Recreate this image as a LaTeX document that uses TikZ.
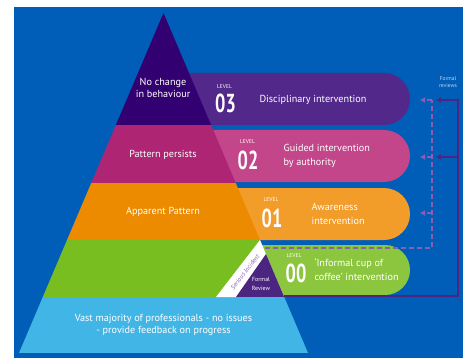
\documentclass[tikz,border=0pt]{standalone}
\usepackage{fontspec}
\setmainfont{PT Sans}
\usepackage{tikz}
\usetikzlibrary{arrows.meta}
\usetikzlibrary{shapes.misc}

\definecolor{bgblue}{HTML}{005EB8}
\definecolor{pyrpurple}{HTML}{330072}
\definecolor{pyrpink}{HTML}{AE2573}
\definecolor{pyrorange}{HTML}{ED8B00}
\definecolor{pyrgreen}{HTML}{78BE20}
\definecolor{pyrlblue}{HTML}{41B6E6}
\definecolor{pillpurple}{HTML}{52288A}
\definecolor{pillpink}{HTML}{C4468A}
\definecolor{pillorange}{HTML}{F29C2A}
\definecolor{pillgreen}{HTML}{8CC63F}
\definecolor{reviewline}{HTML}{4C2580}
\definecolor{incidentline}{HTML}{8A5FB0}
\definecolor{notetext}{HTML}{C9D9EE}

\tikzset{
  pill/.style={rounded rectangle, rounded rectangle left arc=none, inner sep=0pt},
  lbl/.style={text=white, font=\fontsize{10.2}{11.5}\selectfont, align=center},
  pilltext/.style={text=white, font=\fontsize{10.2}{14}\selectfont, align=left, anchor=west},
  levtag/.style={text=white, font=\fontsize{5.5}{5.5}\selectfont, inner sep=0pt},
  levnum/.style={text=white, font=\fontsize{26}{26}\selectfont\bfseries, inner sep=0pt, xscale=0.7, transform shape},
  review/.style={draw=reviewline, line width=1.4pt},
  incident/.style={draw=incidentline, line width=1.4pt, dash pattern=on 5pt off 3pt},
  tip/.style={-{Latex[length=5pt,width=6pt]}}
}

\begin{document}
\begin{tikzpicture}[x=1pt,y=-1pt]
  \useasboundingbox (0,0) rectangle (470,358);
  \fill[white] (0,0) rectangle (470,358);
  \fill[bgblue] (14,7) rectangle (463,358);

  \node[pill, fill=pillpurple, minimum width=250pt, minimum height=52pt] (l03) at (285,99) {};
  \node[pill, fill=pillpink, minimum width=240pt, minimum height=52pt] (l02) at (290,156) {};
  \node[pill, fill=pillorange, minimum width=210pt, minimum height=52pt] (l01) at (305,214) {};
  \node[pill, fill=pillgreen, minimum width=180pt, minimum height=50pt] (l00) at (320,270) {};

  \begin{scope}
    \clip (163.5,13) -- (19,353) -- (308,353) -- cycle;
    \fill[pyrpurple] (0,0) rectangle (470,125);
    \fill[pyrpink] (0,125) rectangle (470,183);
    \fill[pyrorange] (0,183) rectangle (470,240);
    \fill[pyrgreen] (0,240) rectangle (470,297);
    \fill[pyrlblue] (0,297) rectangle (470,353);
  \end{scope}

  \fill[white] (260,240) -- (216,297) -- (284.2,297) -- cycle;
  \fill[reviewline] (266,254) -- (236,297) -- (284.2,297) -- cycle;

  \node[lbl] (t03) at (163,88) {No change\\in behaviour};
  \node[lbl] (t02) at (163,155) {Pattern persists};
  \node[lbl] (t01) at (163,212) {Apparent Pattern};
  \node[lbl] (tbase) at (163.5,325) {Vast majority of professionals - no issues\\- provide feedback on progress};

  \node[levtag] (v03) at (224.5,87) {LEVEL};
  \node[levnum] (n03) at (225.5,103) {03};
  \node[levtag] (v02) at (247.5,142) {LEVEL};
  \node[levnum] (n02) at (248,160) {02};
  \node[levtag] (v01) at (271,200) {LEVEL};
  \node[levnum] (n01) at (272,218) {01};
  \node[levtag] (v00) at (294,256) {LEVEL};
  \node[levnum] (n00) at (296,273.5) {00};

  \node[lbl] (d03) at (313,100) {Disciplinary intervention};
  \node[pilltext] (d02) at (280,156) {Guided intervention\\by authority};
  \node[pilltext] (d01) at (308,214) {Awareness\\intervention};
  \node[pilltext] (d00) at (311,270) {‘Informal cup of\\coffee’ intervention};

  \node[text=incidentline, font=\fontsize{6.5}{6.5}\selectfont\itshape, rotate=52, inner sep=0pt] (si) at (245,272) {Serious Incident};
  \node[text=white, font=\fontsize{6}{9}\selectfont, align=center, inner sep=0pt] (fr) at (261,284) {Formal\\Review};
  \node[text=notetext, font=\fontsize{5.5}{6.5}\selectfont, align=center, inner sep=0pt] (fnote) at (448,82) {Formal\\reviews};

  \coordinate (frc) at (284,296);
  \coordinate (rb) at (458,296);
  \coordinate (rt) at (458,100);
  \coordinate (rm) at (458,157);
  \coordinate (r03) at (436,100);
  \coordinate (r02) at (436,157);
  \draw[review, tip] (frc) -- (rb) -- (rt) -- (r03);
  \draw[review, tip] (rm) -- (r02);

  \coordinate (sic) at (265,248);
  \coordinate (ib) at (432,248);
  \coordinate (it) at (432,100);
  \coordinate (im) at (432,157);
  \coordinate (il) at (432,213);
  \coordinate (i03) at (420,100);
  \coordinate (i02) at (420,157);
  \coordinate (i01) at (420,213);
  \draw[incident] (sic) -- (ib) -- (it);
  \draw[incident, tip] (it) -- (i03);
  \draw[incident, tip] (im) -- (i02);
  \draw[incident, tip] (il) -- (i01);
\end{tikzpicture}
\end{document}
